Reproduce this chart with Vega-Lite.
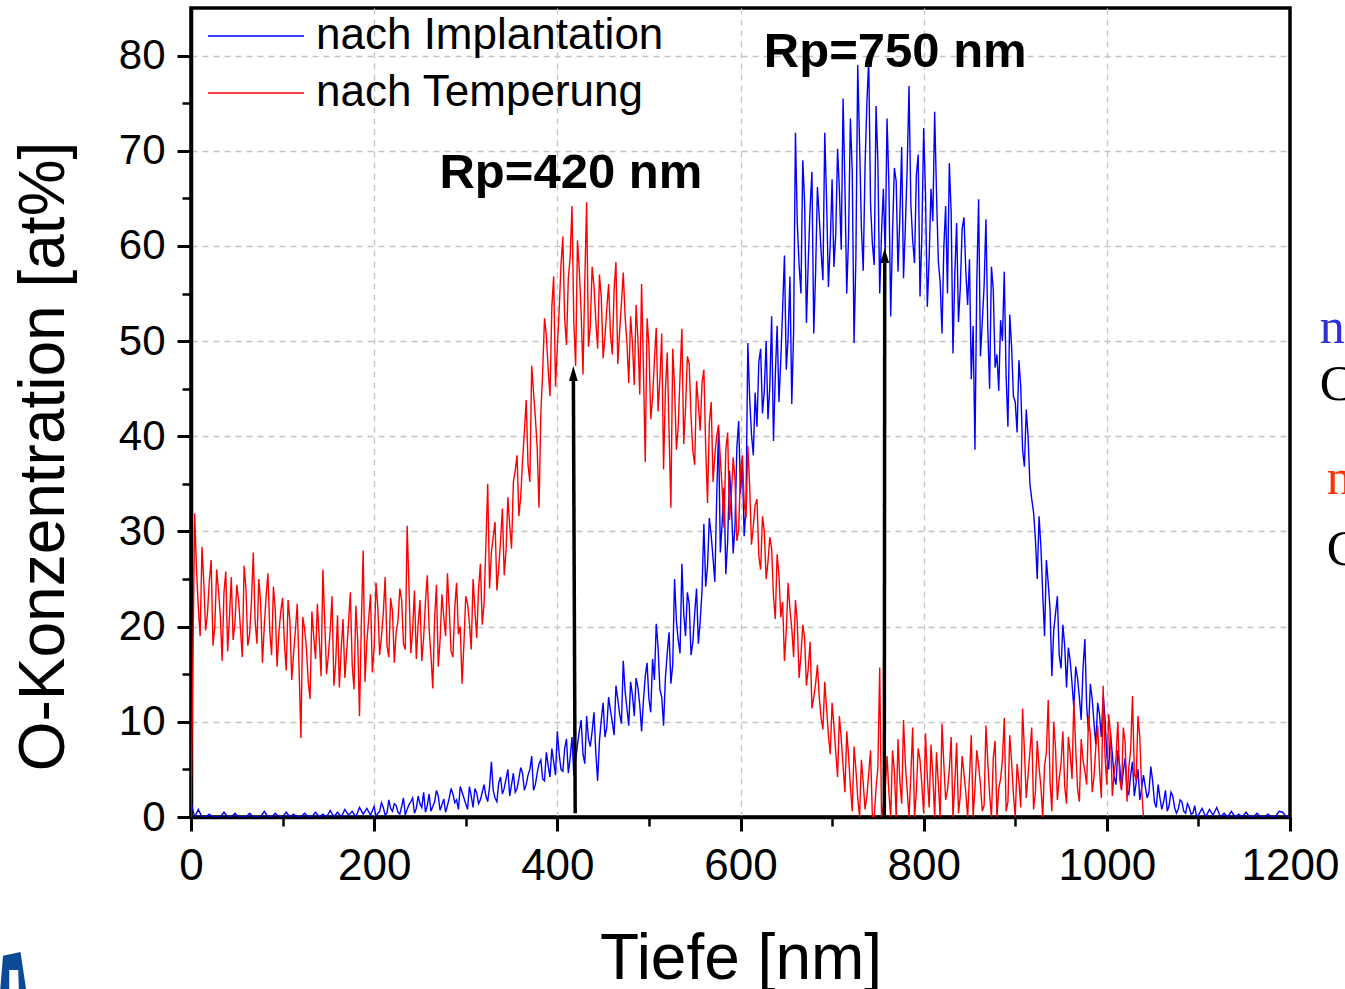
{
"$schema":"https://vega.github.io/schema/vega-lite/v6.json",
"width":1099,"height":809,
"autosize":{"type":"none"},
"padding":{"left":191,"top":8,"right":55,"bottom":172},
"background":"white",
"config":{
 "view":{"stroke":"black","strokeWidth":3.5},
 "font":"Liberation Sans",
 "axis":{"domainColor":"black","tickColor":"black","labelColor":"black","titleColor":"black","titleFontWeight":"normal","labelFont":"Liberation Sans","titleFont":"Liberation Sans"}
},
"datasets":{
"profile":[
{"x":0,"b":1.5,"r":0},{"x":4,"b":0,"r":31.9},{"x":8,"b":0.8,"r":22.0},{"x":12,"b":0,"r":28.4},{"x":16,"b":0,"r":19.6},{"x":20,"b":0.3,"r":24.8},{"x":24,"b":0,"r":18.0},{"x":28,"b":0,"r":26.0},{"x":32,"b":0,"r":21.2},{"x":36,"b":0.5,"r":23.6},{"x":40,"b":0,"r":17.4},{"x":44,"b":0,"r":25.2},{"x":48,"b":0.4,"r":20.4},{"x":52,"b":0,"r":22.8},{"x":56,"b":0,"r":16.8},{"x":60,"b":0,"r":24.0},{"x":64,"b":0.4,"r":19.2},{"x":68,"b":0,"r":27.8},{"x":72,"b":0,"r":18.2},{"x":76,"b":0,"r":22.6},{"x":80,"b":0.6,"r":20.0},{"x":84,"b":0,"r":25.6},{"x":88,"b":0,"r":17.0},{"x":92,"b":0.4,"r":21.8},{"x":96,"b":0,"r":19.4},
{"x":100,"b":0,"r":23.0},{"x":104,"b":0.5,"r":15.4},{"x":108,"b":0,"r":20.6},{"x":112,"b":0.3,"r":17.2},{"x":116,"b":0,"r":22.4},{"x":120,"b":0,"r":8.3},{"x":124,"b":0.4,"r":19.8},{"x":128,"b":0,"r":14.2},{"x":132,"b":0,"r":21.6},{"x":136,"b":0.5,"r":16.6},{"x":140,"b":0,"r":18.8},{"x":144,"b":0.3,"r":26.0},{"x":148,"b":0,"r":15.0},{"x":152,"b":0.7,"r":19.6},{"x":156,"b":0,"r":13.8},{"x":160,"b":0.5,"r":21.2},{"x":164,"b":0,"r":17.6},{"x":168,"b":0.8,"r":14.6},{"x":172,"b":0.2,"r":20.4},{"x":176,"b":0.6,"r":16.0},{"x":180,"b":0,"r":22.2},{"x":184,"b":1.0,"r":10.6},{"x":188,"b":0.3,"r":28.0},{"x":192,"b":0.9,"r":18.4},{"x":196,"b":0.2,"r":23.4},
{"x":200,"b":1.1,"r":17.8},{"x":204,"b":0.4,"r":22.0},{"x":208,"b":1.5,"r":19.0},{"x":212,"b":0.2,"r":25.2},{"x":216,"b":1.8,"r":16.8},{"x":220,"b":0.6,"r":21.6},{"x":224,"b":1.2,"r":19.4},{"x":228,"b":0.3,"r":24.0},{"x":232,"b":2.0,"r":18.2},{"x":236,"b":0.8,"r":30.6},{"x":240,"b":1.6,"r":17.2},{"x":244,"b":0.4,"r":23.8},{"x":248,"b":2.2,"r":20.2},{"x":252,"b":1.0,"r":16.4},{"x":256,"b":0.5,"r":22.6},{"x":260,"b":2.4,"r":19.8},{"x":264,"b":1.1,"r":13.5},{"x":268,"b":2.8,"r":24.4},{"x":272,"b":0.7,"r":18.6},{"x":276,"b":1.9,"r":21.0},{"x":280,"b":1.2,"r":25.6},{"x":284,"b":3.0,"r":17.4},{"x":288,"b":1.5,"r":22.0},{"x":292,"b":0.8,"r":19.2},{"x":296,"b":2.6,"r":14.0},
{"x":300,"b":1.4,"r":23.2},{"x":304,"b":3.2,"r":20.4},{"x":308,"b":1.0,"r":25.0},{"x":312,"b":2.5,"r":18.8},{"x":316,"b":1.8,"r":26.6},{"x":320,"b":3.4,"r":22.4},{"x":324,"b":1.6,"r":35.0},{"x":328,"b":5.8,"r":27.8},{"x":332,"b":2.0,"r":31.0},{"x":336,"b":3.6,"r":26.2},{"x":340,"b":2.4,"r":32.4},{"x":344,"b":4.0,"r":28.0},{"x":348,"b":2.2,"r":30.6},{"x":352,"b":4.6,"r":35.2},{"x":356,"b":3.0,"r":38.0},{"x":360,"b":5.2,"r":33.6},{"x":364,"b":2.8,"r":40.4},{"x":368,"b":4.4,"r":37.0},{"x":372,"b":6.4,"r":47.4},{"x":376,"b":3.4,"r":42.0},{"x":380,"b":5.6,"r":32.5},{"x":384,"b":4.0,"r":46.8},{"x":388,"b":6.8,"r":50.6},{"x":392,"b":4.2,"r":44.2},{"x":396,"b":5.8,"r":56.8},
{"x":400,"b":9.0,"r":49.4},{"x":404,"b":5.0,"r":58.0},{"x":408,"b":7.2,"r":52.4},{"x":412,"b":4.6,"r":56.6},{"x":416,"b":8.4,"r":64.2},{"x":420,"b":6.0,"r":47.4},{"x":424,"b":9.0,"r":57.4},{"x":428,"b":6.6,"r":46.5},{"x":432,"b":10.6,"r":64.6},{"x":436,"b":7.4,"r":51.6},{"x":440,"b":11.0,"r":55.8},{"x":444,"b":3.8,"r":49.2},{"x":448,"b":10.2,"r":54.6},{"x":452,"b":8.4,"r":50.4},{"x":456,"b":12.6,"r":56.0},{"x":460,"b":10.0,"r":48.6},{"x":464,"b":13.8,"r":58.3},{"x":468,"b":10.8,"r":51.0},{"x":472,"b":16.4,"r":57.2},{"x":476,"b":11.4,"r":49.8},{"x":480,"b":14.2,"r":52.6},{"x":484,"b":10.6,"r":45.4},{"x":488,"b":13.6,"r":50.2},{"x":492,"b":9.0,"r":56.0},{"x":496,"b":14.8,"r":37.3},
{"x":500,"b":12.4,"r":49.6},{"x":504,"b":16.6,"r":44.0},{"x":508,"b":20.3,"r":51.4},{"x":512,"b":13.4,"r":46.0},{"x":516,"b":9.6,"r":36.5},{"x":520,"b":17.2,"r":48.8},{"x":524,"b":14.0,"r":32.5},{"x":528,"b":25.0,"r":45.2},{"x":532,"b":18.6,"r":41.0},{"x":536,"b":26.6,"r":51.3},{"x":540,"b":19.0,"r":43.0},{"x":544,"b":22.4,"r":47.6},{"x":548,"b":18.4,"r":38.4},{"x":552,"b":24.0,"r":45.8},{"x":556,"b":20.6,"r":40.6},{"x":560,"b":30.8,"r":47.0},{"x":564,"b":26.4,"r":33.0},{"x":568,"b":29.6,"r":43.6},{"x":572,"b":24.7,"r":38.0},{"x":576,"b":40.6,"r":41.2},{"x":580,"b":31.0,"r":34.4},{"x":584,"b":25.5,"r":38.6},{"x":588,"b":36.4,"r":31.2},{"x":592,"b":27.7,"r":37.8},{"x":596,"b":38.8,"r":29.0},
{"x":600,"b":34.0,"r":36.4},{"x":604,"b":29.5,"r":33.0},{"x":608,"b":49.8,"r":39.0},{"x":612,"b":40.2,"r":28.6},{"x":616,"b":44.6,"r":32.8},{"x":620,"b":47.8,"r":27.4},{"x":624,"b":42.4,"r":31.6},{"x":628,"b":50.0,"r":25.0},{"x":632,"b":45.2,"r":29.4},{"x":636,"b":39.5,"r":23.2},{"x":640,"b":51.6,"r":27.6},{"x":644,"b":48.0,"r":21.0},{"x":648,"b":59.0,"r":16.4},{"x":652,"b":50.4,"r":24.6},{"x":656,"b":43.4,"r":19.8},{"x":660,"b":71.9,"r":22.8},{"x":664,"b":58.0,"r":14.6},{"x":668,"b":69.0,"r":20.2},{"x":672,"b":51.9,"r":13.8},{"x":676,"b":64.0,"r":18.4},{"x":680,"b":50.8,"r":12.6},{"x":684,"b":66.2,"r":16.0},{"x":688,"b":59.4,"r":10.4},{"x":692,"b":71.9,"r":14.2},{"x":696,"b":55.7,"r":8.6},
{"x":700,"b":67.0,"r":12.0},{"x":704,"b":61.2,"r":6.8},{"x":708,"b":65.8,"r":10.6},{"x":712,"b":75.5,"r":5.4},{"x":716,"b":55.0,"r":9.0},{"x":720,"b":73.4,"r":3.2},{"x":724,"b":49.8,"r":7.4},{"x":728,"b":79.0,"r":2.0},{"x":732,"b":62.0,"r":6.0},{"x":736,"b":68.4,"r":0.8},{"x":740,"b":79.6,"r":4.6},{"x":744,"b":60.2,"r":0},{"x":748,"b":74.7,"r":3.0},{"x":752,"b":55.0,"r":15.7},{"x":756,"b":66.0,"r":1.2},{"x":760,"b":73.4,"r":6.4},{"x":764,"b":52.6,"r":0},{"x":768,"b":68.2,"r":4.8},{"x":772,"b":57.3,"r":8.2},{"x":776,"b":70.4,"r":1.4},{"x":780,"b":62.0,"r":5.6},{"x":784,"b":76.8,"r":0},{"x":788,"b":60.6,"r":9.4},{"x":792,"b":67.4,"r":2.6},{"x":796,"b":54.7,"r":6.0},
{"x":800,"b":72.4,"r":0.4},{"x":804,"b":53.6,"r":4.2},{"x":808,"b":66.0,"r":7.6},{"x":812,"b":74.1,"r":0},{"x":816,"b":58.4,"r":3.6},{"x":820,"b":50.8,"r":9.8},{"x":824,"b":64.2,"r":1.8},{"x":828,"b":68.7,"r":5.0},{"x":832,"b":48.7,"r":0},{"x":836,"b":62.4,"r":7.8},{"x":840,"b":55.6,"r":2.2},{"x":844,"b":63.0,"r":4.6},{"x":848,"b":53.8,"r":0},{"x":852,"b":46.0,"r":8.6},{"x":856,"b":38.6,"r":3.0},{"x":860,"b":64.9,"r":5.4},{"x":864,"b":52.0,"r":0.6},{"x":868,"b":62.8,"r":9.6},{"x":872,"b":45.0,"r":2.4},{"x":876,"b":55.4,"r":6.2},{"x":880,"b":48.6,"r":0},{"x":884,"b":52.2,"r":4.0},{"x":888,"b":57.3,"r":10.4},{"x":892,"b":41.0,"r":1.6},{"x":896,"b":49.4,"r":5.8},
{"x":900,"b":43.6,"r":0},{"x":904,"b":48.0,"r":3.8},{"x":908,"b":38.6,"r":11.4},{"x":912,"b":42.8,"r":2.0},{"x":916,"b":35.0,"r":6.8},{"x":920,"b":32.0,"r":0.8},{"x":924,"b":25.0,"r":8.0},{"x":928,"b":28.4,"r":3.2},{"x":932,"b":19.0,"r":5.4},{"x":936,"b":24.6,"r":12.3},{"x":940,"b":14.8,"r":0.6},{"x":944,"b":21.4,"r":7.2},{"x":948,"b":17.0,"r":4.0},{"x":952,"b":20.2,"r":9.0},{"x":956,"b":13.6,"r":1.4},{"x":960,"b":16.4,"r":6.6},{"x":964,"b":11.4,"r":12.3},{"x":968,"b":14.6,"r":3.0},{"x":972,"b":10.2,"r":8.2},{"x":976,"b":18.7,"r":4.8},{"x":980,"b":9.0,"r":10.6},{"x":984,"b":12.4,"r":2.6},{"x":988,"b":7.6,"r":7.4},{"x":992,"b":10.8,"r":5.0},{"x":996,"b":12.8,"r":13.8},
{"x":1000,"b":6.4,"r":3.4},{"x":1004,"b":8.8,"r":8.8},{"x":1008,"b":4.2,"r":4.6},{"x":1012,"b":7.0,"r":10.0},{"x":1016,"b":3.0,"r":2.8},{"x":1020,"b":6.2,"r":7.8},{"x":1024,"b":2.4,"r":5.2},{"x":1028,"b":5.8,"r":12.7},{"x":1032,"b":3.6,"r":3.8},{"x":1036,"b":1.8,"r":8.4},{"x":1040,"b":4.4,"r":0},
{"x":1044,"b":2.0},{"x":1048,"b":5.3},{"x":1052,"b":1.6},{"x":1056,"b":3.4},{"x":1060,"b":0.8},{"x":1064,"b":2.8},{"x":1068,"b":1.2},{"x":1072,"b":2.2},{"x":1076,"b":0.4},{"x":1080,"b":1.8},{"x":1084,"b":0.6},{"x":1088,"b":1.4},{"x":1092,"b":0.3},{"x":1096,"b":1.2},
{"x":1100,"b":0.2},{"x":1104,"b":0.9},{"x":1108,"b":0},{"x":1112,"b":0.8},{"x":1116,"b":0.2},{"x":1120,"b":1.0},{"x":1124,"b":0},{"x":1128,"b":0.4},{"x":1132,"b":0},{"x":1136,"b":0.6},{"x":1140,"b":0},{"x":1144,"b":0.3},{"x":1148,"b":0},{"x":1152,"b":0.5},{"x":1156,"b":0},{"x":1160,"b":0},{"x":1164,"b":0.4},{"x":1168,"b":0},{"x":1172,"b":0},{"x":1176,"b":0.3},{"x":1180,"b":0},{"x":1184,"b":0},{"x":1188,"b":0.6},{"x":1192,"b":0.5},{"x":1196,"b":0},{"x":1200,"b":0},
{"x":6,"r":26.0},{"x":10,"r":19.0},{"x":14,"r":24.6},{"x":18,"r":21.4},{"x":22,"r":27.0},{"x":26,"r":20.0},{"x":30,"r":23.8},{"x":34,"r":16.4},{"x":38,"r":25.8},{"x":42,"r":21.0},{"x":46,"r":18.6},{"x":50,"r":24.4},{"x":54,"r":19.8},{"x":58,"r":26.4},{"x":62,"r":18.0},{"x":66,"r":22.6},{"x":70,"r":20.6},{"x":74,"r":25.0},{"x":78,"r":16.2},{"x":82,"r":23.2},{"x":86,"r":19.6},{"x":90,"r":24.2},{"x":94,"r":15.8},{"x":98,"r":21.6},
{"x":102,"r":18.2},{"x":106,"r":22.8},{"x":110,"r":14.4},{"x":114,"r":19.6},{"x":118,"r":15.6},{"x":122,"r":21.0},{"x":126,"r":17.8},{"x":130,"r":12.4},{"x":134,"r":19.0},{"x":138,"r":22.4},{"x":142,"r":14.8},{"x":146,"r":20.6},{"x":150,"r":17.0},{"x":154,"r":23.2},{"x":158,"r":16.2},{"x":162,"r":13.6},{"x":166,"r":20.8},{"x":170,"r":17.4},{"x":174,"r":23.6},{"x":178,"r":13.4},{"x":182,"r":18.6},{"x":186,"r":20.4},{"x":190,"r":14.2},{"x":194,"r":20.8},{"x":198,"r":15.2},
{"x":202,"b":0,"r":24.6},{"x":206,"b":0.6,"r":17.0},{"x":210,"b":1.0,"r":21.4},{"x":214,"b":0.4,"r":18.0},{"x":218,"b":0.9,"r":23.0},{"x":222,"b":1.4,"r":16.2},{"x":226,"b":0.5,"r":20.6},{"x":230,"b":1.1,"r":22.8},{"x":234,"b":0.2,"r":17.6},{"x":238,"b":1.3,"r":24.2},{"x":242,"b":2.0,"r":19.6},{"x":246,"b":0.9,"r":16.6},{"x":250,"b":1.4,"r":22.8},{"x":254,"b":2.6,"r":18.8},{"x":258,"b":1.2,"r":25.4},{"x":262,"b":0.6,"r":17.0},{"x":266,"b":1.6,"r":20.8},{"x":270,"b":2.2,"r":15.8},{"x":274,"b":1.3,"r":23.4},{"x":278,"b":0.5,"r":19.0},{"x":282,"b":2.0,"r":21.8},{"x":286,"b":2.4,"r":16.8},{"x":290,"b":1.8,"r":24.6},{"x":294,"b":3.2,"r":20.0},{"x":298,"b":2.0,"r":18.2},
{"x":302,"b":0.8,"r":22.4},{"x":306,"b":2.2,"r":17.6},{"x":310,"b":3.0,"r":21.8},{"x":314,"b":1.4,"r":24.0},{"x":318,"b":2.6,"r":20.2},{"x":322,"b":2.2,"r":28.6},{"x":326,"b":3.2,"r":24.0},{"x":330,"b":2.8,"r":29.4},{"x":334,"b":1.6,"r":23.8},{"x":338,"b":4.2,"r":29.0},{"x":342,"b":3.0,"r":25.4},{"x":346,"b":5.0,"r":33.6},{"x":350,"b":3.4,"r":28.2},{"x":354,"b":2.6,"r":36.4},{"x":358,"b":4.0,"r":31.6},{"x":362,"b":4.6,"r":37.4},{"x":366,"b":3.4,"r":43.8},{"x":370,"b":5.0,"r":35.2},{"x":374,"b":2.8,"r":44.6},{"x":378,"b":4.6,"r":38.8},{"x":382,"b":6.0,"r":42.4},{"x":386,"b":3.8,"r":52.4},{"x":390,"b":5.4,"r":47.0},{"x":394,"b":7.2,"r":53.6},{"x":398,"b":4.4,"r":45.2},
{"x":402,"b":6.6,"r":53.2},{"x":406,"b":4.8,"r":61.0},{"x":410,"b":8.2,"r":49.6},{"x":414,"b":6.2,"r":58.8},{"x":418,"b":4.4,"r":52.0},{"x":422,"b":7.6,"r":60.6},{"x":426,"b":10.2,"r":53.0},{"x":430,"b":5.6,"r":56.4},{"x":434,"b":8.2,"r":49.4},{"x":438,"b":9.0,"r":57.8},{"x":442,"b":6.8,"r":52.2},{"x":446,"b":8.0,"r":57.0},{"x":450,"b":12.0,"r":48.2},{"x":454,"b":9.4,"r":53.4},{"x":458,"b":11.2,"r":50.8},{"x":462,"b":8.6,"r":55.4},{"x":466,"b":12.4,"r":47.6},{"x":470,"b":9.8,"r":54.0},{"x":474,"b":13.2,"r":52.6},{"x":478,"b":9.6,"r":45.6},{"x":482,"b":12.8,"r":49.8},{"x":486,"b":14.6,"r":53.8},{"x":490,"b":11.8,"r":44.4},{"x":494,"b":12.2,"r":47.2},{"x":498,"b":16.2,"r":52.4},
{"x":502,"b":11.0,"r":41.8},{"x":506,"b":14.4,"r":48.0},{"x":510,"b":17.8,"r":42.6},{"x":514,"b":12.6,"r":50.8},{"x":518,"b":14.6,"r":44.8},{"x":522,"b":19.4,"r":40.4},{"x":526,"b":16.0,"r":49.2},{"x":530,"b":20.6,"r":38.6},{"x":534,"b":17.2,"r":46.4},{"x":538,"b":21.4,"r":39.2},{"x":542,"b":23.6,"r":48.4},{"x":546,"b":17.0,"r":42.0},{"x":550,"b":21.4,"r":37.0},{"x":554,"b":18.2,"r":43.4},{"x":558,"b":23.8,"r":45.6},{"x":562,"b":24.2,"r":38.8},{"x":566,"b":31.4,"r":41.4},{"x":570,"b":27.2,"r":35.2},{"x":574,"b":33.6,"r":40.0},{"x":578,"b":27.8,"r":37.6},{"x":582,"b":34.6,"r":30.4},{"x":586,"b":29.0,"r":40.4},{"x":590,"b":33.0,"r":33.8},{"x":594,"b":30.6,"r":35.4},{"x":598,"b":41.6,"r":30.2},
{"x":602,"b":37.4,"r":38.0},{"x":606,"b":32.6,"r":31.4},{"x":610,"b":44.0,"r":34.8},{"x":614,"b":38.0,"r":30.6},{"x":618,"b":41.0,"r":33.4},{"x":622,"b":49.2,"r":26.0},{"x":626,"b":44.8,"r":30.0},{"x":630,"b":41.8,"r":26.8},{"x":634,"b":52.6,"r":28.2},{"x":638,"b":46.4,"r":20.8},{"x":642,"b":43.6,"r":25.4},{"x":646,"b":53.4,"r":22.6},{"x":650,"b":47.0,"r":19.6},{"x":654,"b":56.8,"r":21.8},{"x":658,"b":51.0,"r":16.8},{"x":662,"b":62.4,"r":20.4},{"x":666,"b":55.0,"r":17.0},{"x":670,"b":64.6,"r":18.8},{"x":674,"b":58.4,"r":15.6},{"x":678,"b":67.8,"r":11.4},{"x":682,"b":57.2,"r":14.0},{"x":686,"b":63.0,"r":12.6},{"x":690,"b":56.4,"r":9.2},{"x":694,"b":64.8,"r":11.4},{"x":698,"b":60.2,"r":6.6},
{"x":702,"b":57.8,"r":9.6},{"x":706,"b":70.2,"r":4.2},{"x":710,"b":59.6,"r":8.2},{"x":714,"b":66.4,"r":2.6},{"x":718,"b":61.0,"r":6.4},{"x":722,"b":67.8,"r":0.6},{"x":726,"b":58.8,"r":5.0},{"x":730,"b":70.8,"r":0},{"x":734,"b":57.4,"r":3.6},{"x":738,"b":75.0,"r":2.2},{"x":742,"b":64.4,"r":7.0},{"x":746,"b":58.0,"r":0},{"x":750,"b":68.8,"r":5.2},{"x":754,"b":61.4,"r":0},{"x":758,"b":59.0,"r":3.0},{"x":762,"b":66.6,"r":2.6},{"x":766,"b":61.4,"r":7.0},{"x":770,"b":66.8,"r":0},{"x":774,"b":63.0,"r":3.8},{"x":778,"b":56.6,"r":10.2},{"x":782,"b":68.2,"r":2.8},{"x":786,"b":64.4,"r":4.4},{"x":790,"b":58.2,"r":0},{"x":794,"b":69.6,"r":7.2},{"x":798,"b":61.0,"r":3.4},
{"x":802,"b":65.4,"r":8.8},{"x":806,"b":58.8,"r":1.0},{"x":810,"b":62.6,"r":4.4},{"x":814,"b":65.6,"r":6.8},{"x":818,"b":56.2,"r":0},{"x":822,"b":59.8,"r":5.6},{"x":826,"b":55.0,"r":2.8},{"x":830,"b":63.6,"r":8.4},{"x":834,"b":57.0,"r":3.6},{"x":838,"b":52.0,"r":0.4},{"x":842,"b":61.8,"r":6.4},{"x":846,"b":57.4,"r":2.6},{"x":850,"b":58.6,"r":4.2},{"x":854,"b":51.6,"r":0},{"x":858,"b":56.2,"r":7.0},{"x":862,"b":48.4,"r":3.4},{"x":866,"b":55.8,"r":1.2},{"x":870,"b":51.4,"r":5.8},{"x":874,"b":57.8,"r":0},{"x":878,"b":47.2,"r":8.0},{"x":882,"b":44.8,"r":3.0},{"x":886,"b":50.0,"r":6.0},{"x":890,"b":46.4,"r":0.6},{"x":894,"b":52.8,"r":8.6},{"x":898,"b":44.2,"r":2.4},
{"x":902,"b":40.4,"r":5.6},{"x":906,"b":45.2,"r":1.0},{"x":910,"b":36.8,"r":7.0},{"x":914,"b":40.0,"r":4.4},{"x":918,"b":33.4,"r":9.4},{"x":922,"b":29.2,"r":2.6},{"x":926,"b":31.6,"r":5.2},{"x":930,"b":23.4,"r":0},{"x":934,"b":27.0,"r":6.8},{"x":938,"b":21.8,"r":3.6},{"x":942,"b":19.6,"r":10.0},{"x":946,"b":23.2,"r":1.8},{"x":950,"b":15.6,"r":5.6},{"x":954,"b":18.0,"r":3.2},{"x":958,"b":17.8,"r":8.4},{"x":962,"b":14.0,"r":4.0},{"x":966,"b":15.8,"r":7.2},{"x":970,"b":12.6,"r":1.6},{"x":974,"b":15.6,"r":6.0},{"x":978,"b":11.6,"r":3.4},{"x":982,"b":14.0,"r":8.6},{"x":986,"b":9.8,"r":4.2},{"x":990,"b":12.0,"r":9.6},{"x":994,"b":8.4,"r":2.0},{"x":998,"b":10.4,"r":6.4},
{"x":1002,"b":5.0,"r":10.8},{"x":1006,"b":6.6,"r":2.2},{"x":1010,"b":3.4,"r":6.2},{"x":1014,"b":5.4,"r":4.0},{"x":1018,"b":4.8,"r":9.4},{"x":1022,"b":2.8,"r":1.6},{"x":1026,"b":4.4,"r":7.0},{"x":1030,"b":2.2,"r":4.6},{"x":1034,"b":5.0,"r":10.6},{"x":1038,"b":3.0,"r":3.0},
{"x":1042,"b":3.2},{"x":1046,"b":2.6},{"x":1050,"b":3.8},{"x":1054,"b":1.0},{"x":1058,"b":2.0},{"x":1062,"b":1.6},{"x":1066,"b":0.6},{"x":1070,"b":2.6},{"x":1074,"b":1.0},{"x":1078,"b":0.8},{"x":1082,"b":1.6},{"x":1086,"b":0.4},{"x":1090,"b":1.0},{"x":1094,"b":0.4},{"x":1098,"b":0}
],
"arrows":[{"x0":419.5,"y0":0.4,"x1":417.5,"y1":46.6},{"x0":757,"y0":0,"x1":757.5,"y1":59.0}],
"notes":[{"t":"Rp=420 nm","x":414.8,"y":66.1},{"t":"Rp=750 nm","x":769,"y":78.8}],
"cutBlue":[{"t":"n","x":1232.5,"y":49.8}],
"cutRed":[{"t":"n","x":1240,"y":33.9}],
"cutBlack":[{"t":"C","x":1232.5,"y":43.8},{"t":"C","x":1240,"y":26.5}],
"logo":[{"x":-193,"y":-16.8}]
},
"layer":[
{
 "data":{"name":"profile"},
 "transform":[{"fold":["b","r"],"as":["series","value"]},{"filter":"isValid(datum.value)"}],
 "mark":{"type":"line","strokeWidth":1.4,"clip":true},
 "encoding":{
  "x":{"field":"x","type":"quantitative","sort":"ascending","scale":{"domain":[0,1200],"nice":false,"zero":false},
   "axis":{"orient":"bottom","values":[0,200,400,600,800,1000,1200],"format":"d","title":"Tiefe [nm]","titleFontSize":64,"titlePadding":39,"labelFontSize":44,"labelPadding":13,"tickSize":14,"tickWidth":3,"domainWidth":3.5,"grid":true,"gridColor":{"condition":{"test":"datum.value == 0 || datum.value == 1200","value":"transparent"},"value":"#c4c4c4"},"gridDash":[6,5],"gridWidth":1.3,"labelFlush":false,"labelOverlap":false}},
  "y":{"field":"value","type":"quantitative","scale":{"domain":[0,85],"nice":false,"zero":false},
   "axis":{"orient":"left","values":[0,10,20,30,40,50,60,70,80],"title":"O-Konzentration [at%]","titleFontSize":64,"titlePadding":42,"titleY":448,"labelFontSize":42,"labelPadding":12,"tickSize":14,"tickWidth":3,"domainWidth":3.5,"grid":true,"gridColor":{"condition":{"test":"datum.value == 0","value":"transparent"},"value":"#c4c4c4"},"gridDash":[6,5],"gridWidth":1.3,"labelFlush":false,"labelOverlap":false}},
  "color":{"field":"series","type":"nominal","scale":{"domain":["b","r"],"range":["#0000ff","#ff0000"]},
   "legend":{"labelExpr":"datum.label == 'b' ? 'nach Implantation' : 'nach Temperung'","orient":"none","legendX":16,"legendY":8,"title":null,"clipHeight":40,"symbolSize":9216,"symbolType":"stroke","symbolStrokeWidth":1.5,"labelFontSize":44,"labelFont":"Liberation Sans","labelColor":"black","labelOffset":11,"rowPadding":13,"padding":0,"labelLimit":600}}
 }
},
{
 "data":{"name":"arrows"},
 "mark":{"type":"rule","strokeWidth":3.5,"color":"black"},
 "encoding":{
  "x":{"field":"x0","type":"quantitative","scale":{"domain":[0,1200],"nice":false,"zero":false},
   "axis":{"orient":"bottom","values":[100,300,500,700,900,1100],"labels":false,"tickSize":9,"tickWidth":2.5,"domain":false,"grid":false,"title":null}},
  "x2":{"field":"x1"},
  "y":{"field":"y0","type":"quantitative","scale":{"domain":[0,85],"nice":false,"zero":false},
   "axis":{"orient":"left","values":[5,15,25,35,45,55,65,75],"labels":false,"tickSize":9,"tickWidth":2.5,"domain":false,"grid":false,"title":null}},
  "y2":{"field":"y1"}
 }
},
{
 "data":{"name":"arrows"},
 "mark":{"type":"point","shape":"M0,-1L0.58,1L-0.58,1Z","filled":true,"color":"black","opacity":1,"size":225},
 "encoding":{
  "x":{"field":"x1","type":"quantitative","axis":null},
  "y":{"field":"y1","type":"quantitative","axis":null}
 }
},
{
 "data":{"name":"notes"},
 "mark":{"type":"text","font":"Liberation Sans","fontWeight":"bold","fontSize":49,"align":"center","baseline":"alphabetic","color":"black"},
 "encoding":{
  "x":{"field":"x","type":"quantitative","axis":null},
  "y":{"field":"y","type":"quantitative","axis":null},
  "text":{"field":"t"}
 }
},
{
 "data":{"name":"cutBlue"},
 "mark":{"type":"text","font":"Liberation Serif","fontSize":50,"align":"left","baseline":"alphabetic","color":"#2f2fd6","clip":false},
 "encoding":{
  "x":{"field":"x","type":"quantitative","axis":null},
  "y":{"field":"y","type":"quantitative","axis":null},
  "text":{"field":"t"}
 }
},
{
 "data":{"name":"cutRed"},
 "mark":{"type":"text","font":"Liberation Serif","fontSize":50,"align":"left","baseline":"alphabetic","color":"#ff3300","clip":false},
 "encoding":{
  "x":{"field":"x","type":"quantitative","axis":null},
  "y":{"field":"y","type":"quantitative","axis":null},
  "text":{"field":"t"}
 }
},
{
 "data":{"name":"cutBlack"},
 "mark":{"type":"text","font":"Liberation Serif","fontSize":50,"align":"left","baseline":"alphabetic","color":"black","clip":false},
 "encoding":{
  "x":{"field":"x","type":"quantitative","axis":null},
  "y":{"field":"y","type":"quantitative","axis":null},
  "text":{"field":"t"}
 }
},
{
 "data":{"name":"logo"},
 "mark":{"type":"point","shape":"M-0.6,1L-0.45,-0.85L0.25,-1L0.55,1L0.2,1L0.16,-0.28L-0.2,-0.28L-0.2,1Z","filled":true,"color":"#0b4a96","opacity":1,"size":2500,"clip":false},
 "encoding":{
  "x":{"field":"x","type":"quantitative","axis":null},
  "y":{"field":"y","type":"quantitative","axis":null}
 }
}
],
"resolve":{"axis":{"x":"independent","y":"independent"}}
}
